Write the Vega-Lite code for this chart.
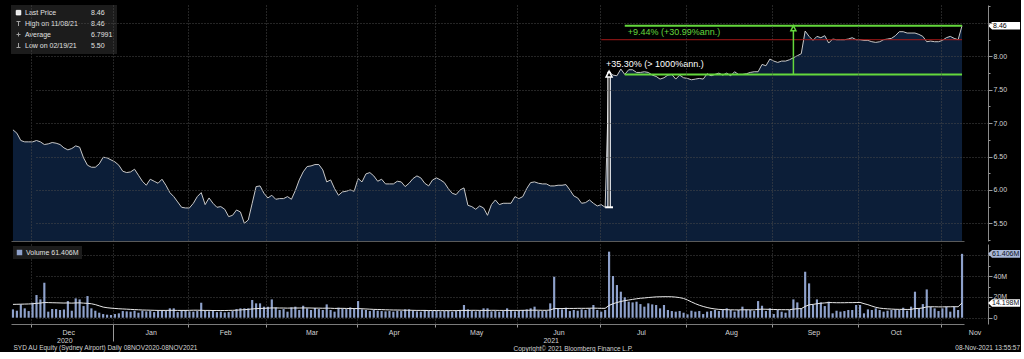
{
  "$schema": "https://vega.github.io/schema/vega-lite/v6.json",
  "background": "#000000",
  "padding": {"left": 10, "top": 5, "right": 0, "bottom": 0},
  "config": {
    "view": {"stroke": null},
    "font": "Liberation Sans",
    "axis": {"labelColor": "#d4d4d4", "labelFontSize": 7, "labelFont": "Liberation Sans", "gridColor": "#4a4a4a", "gridDash": [1, 2], "domainColor": "#7a7a7a", "tickColor": "#9a9a9a", "titleColor": "#d4d4d4", "titleFontWeight": "normal", "titleFontSize": 6.5, "titleFont": "Liberation Sans"},
    "legend": {"labelColor": "#e0e0e0", "labelFontSize": 7, "labelFont": "Liberation Sans", "fillColor": "#1c1c1c", "padding": 3},
    "title": {"color": "#d4d4d4", "fontSize": 6.5, "fontWeight": "normal", "font": "Liberation Sans"}
  },
  "datasets": {
    "px": [
      {"d":"2020-11-24","p":6.90,"v":8.0,"m":12.8},
      {"d":"2020-11-25","p":6.85,"v":6.7,"m":12.9},
      {"d":"2020-11-26","p":6.74,"v":12.8,"m":13.0},
      {"d":"2020-11-27","p":6.72,"v":9.0,"m":13.1},
      {"d":"2020-11-30","p":6.72,"v":6.4,"m":13.2},
      {"d":"2020-12-01","p":6.72,"v":14.4,"m":13.4},
      {"d":"2020-12-02","p":6.74,"v":21.8,"m":13.8},
      {"d":"2020-12-03","p":6.72,"v":17.6,"m":14.1},
      {"d":"2020-12-04","p":6.68,"v":33.7,"m":14.6},
      {"d":"2020-12-07","p":6.69,"v":5.8,"m":14.5},
      {"d":"2020-12-08","p":6.71,"v":8.3,"m":14.4},
      {"d":"2020-12-09","p":6.70,"v":8.3,"m":14.3},
      {"d":"2020-12-10","p":6.68,"v":7.4,"m":14.2},
      {"d":"2020-12-11","p":6.63,"v":8.0,"m":14.1},
      {"d":"2020-12-14","p":6.60,"v":16.0,"m":14.2},
      {"d":"2020-12-15","p":6.62,"v":6.7,"m":14.0},
      {"d":"2020-12-16","p":6.66,"v":18.6,"m":14.2},
      {"d":"2020-12-17","p":6.64,"v":17.6,"m":14.3},
      {"d":"2020-12-18","p":6.48,"v":11.2,"m":14.0},
      {"d":"2020-12-21","p":6.37,"v":20.8,"m":13.8},
      {"d":"2020-12-22","p":6.34,"v":9.0,"m":13.4},
      {"d":"2020-12-23","p":6.34,"v":6.7,"m":12.6},
      {"d":"2020-12-24","p":6.39,"v":4.8,"m":11.4},
      {"d":"2020-12-29","p":6.49,"v":3.5,"m":10.2},
      {"d":"2020-12-30","p":6.48,"v":2.9,"m":9.6},
      {"d":"2020-12-31","p":6.45,"v":2.6,"m":9.2},
      {"d":"2021-01-04","p":6.42,"v":3.5,"m":8.9},
      {"d":"2021-01-05","p":6.37,"v":4.2,"m":8.6},
      {"d":"2021-01-06","p":6.28,"v":6.4,"m":8.4},
      {"d":"2021-01-07","p":6.26,"v":6.1,"m":8.2},
      {"d":"2021-01-08","p":6.27,"v":5.8,"m":8.0},
      {"d":"2021-01-11","p":6.31,"v":6.7,"m":7.8},
      {"d":"2021-01-12","p":6.22,"v":4.8,"m":7.6},
      {"d":"2021-01-13","p":6.13,"v":6.7,"m":7.4},
      {"d":"2021-01-14","p":6.07,"v":6.1,"m":7.3},
      {"d":"2021-01-15","p":6.16,"v":6.4,"m":7.2},
      {"d":"2021-01-18","p":6.13,"v":5.4,"m":7.1},
      {"d":"2021-01-19","p":6.10,"v":6.4,"m":7.0},
      {"d":"2021-01-20","p":6.16,"v":6.7,"m":7.0},
      {"d":"2021-01-21","p":6.07,"v":6.4,"m":7.0},
      {"d":"2021-01-22","p":5.96,"v":9.0,"m":7.1},
      {"d":"2021-01-25","p":5.90,"v":9.0,"m":7.1},
      {"d":"2021-01-27","p":5.82,"v":5.4,"m":7.0},
      {"d":"2021-01-28","p":5.74,"v":7.4,"m":7.0},
      {"d":"2021-01-29","p":5.73,"v":7.4,"m":7.0},
      {"d":"2021-02-01","p":5.73,"v":6.1,"m":7.1},
      {"d":"2021-02-02","p":5.80,"v":5.8,"m":7.2},
      {"d":"2021-02-03","p":5.90,"v":6.4,"m":7.2},
      {"d":"2021-02-04","p":5.96,"v":14.4,"m":7.1},
      {"d":"2021-02-05","p":5.78,"v":6.7,"m":7.0},
      {"d":"2021-02-08","p":5.88,"v":6.1,"m":7.0},
      {"d":"2021-02-09","p":5.80,"v":6.4,"m":6.9},
      {"d":"2021-02-10","p":5.74,"v":5.4,"m":6.9},
      {"d":"2021-02-11","p":5.75,"v":5.8,"m":6.9},
      {"d":"2021-02-12","p":5.71,"v":5.1,"m":6.9},
      {"d":"2021-02-15","p":5.60,"v":5.4,"m":7.0},
      {"d":"2021-02-16","p":5.62,"v":6.4,"m":7.1},
      {"d":"2021-02-17","p":5.70,"v":8.3,"m":7.2},
      {"d":"2021-02-18","p":5.67,"v":9.0,"m":7.5},
      {"d":"2021-02-19","p":5.50,"v":9.0,"m":7.7},
      {"d":"2021-02-22","p":5.55,"v":9.0,"m":8.0},
      {"d":"2021-02-23","p":5.80,"v":17.0,"m":8.4},
      {"d":"2021-02-24","p":6.05,"v":13.8,"m":8.7},
      {"d":"2021-02-25","p":6.06,"v":13.8,"m":8.9},
      {"d":"2021-02-26","p":5.95,"v":10.6,"m":9.0},
      {"d":"2021-03-01","p":5.88,"v":10.6,"m":9.2},
      {"d":"2021-03-02","p":5.92,"v":17.6,"m":9.4},
      {"d":"2021-03-03","p":5.86,"v":9.9,"m":9.4},
      {"d":"2021-03-04","p":5.87,"v":7.4,"m":9.3},
      {"d":"2021-03-05","p":5.87,"v":8.3,"m":9.3},
      {"d":"2021-03-08","p":5.90,"v":5.8,"m":9.2},
      {"d":"2021-03-09","p":5.86,"v":9.9,"m":9.3},
      {"d":"2021-03-10","p":5.99,"v":10.6,"m":9.3},
      {"d":"2021-03-11","p":6.15,"v":7.4,"m":9.3},
      {"d":"2021-03-12","p":6.27,"v":11.5,"m":9.4},
      {"d":"2021-03-15","p":6.35,"v":9.0,"m":9.4},
      {"d":"2021-03-16","p":6.36,"v":7.4,"m":9.3},
      {"d":"2021-03-17","p":6.38,"v":9.3,"m":9.2},
      {"d":"2021-03-18","p":6.38,"v":8.3,"m":9.2},
      {"d":"2021-03-19","p":6.30,"v":7.4,"m":9.1},
      {"d":"2021-03-22","p":6.12,"v":12.8,"m":9.2},
      {"d":"2021-03-23","p":6.15,"v":7.4,"m":9.1},
      {"d":"2021-03-24","p":6.02,"v":5.8,"m":8.9},
      {"d":"2021-03-25","p":5.92,"v":9.6,"m":9.0},
      {"d":"2021-03-26","p":5.97,"v":9.0,"m":9.0},
      {"d":"2021-03-29","p":5.98,"v":8.3,"m":8.9},
      {"d":"2021-03-30","p":6.00,"v":9.9,"m":8.8},
      {"d":"2021-03-31","p":5.98,"v":9.0,"m":8.8},
      {"d":"2021-04-01","p":6.17,"v":16.0,"m":8.8},
      {"d":"2021-04-06","p":6.12,"v":8.0,"m":8.6},
      {"d":"2021-04-07","p":6.24,"v":7.4,"m":8.4},
      {"d":"2021-04-08","p":6.26,"v":6.4,"m":8.2},
      {"d":"2021-04-09","p":6.21,"v":7.4,"m":8.0},
      {"d":"2021-04-12","p":6.13,"v":6.7,"m":7.9},
      {"d":"2021-04-13","p":6.16,"v":6.4,"m":7.8},
      {"d":"2021-04-14","p":6.09,"v":6.1,"m":7.6},
      {"d":"2021-04-15","p":6.09,"v":6.4,"m":7.5},
      {"d":"2021-04-16","p":6.09,"v":5.8,"m":7.4},
      {"d":"2021-04-19","p":6.13,"v":6.7,"m":7.4},
      {"d":"2021-04-20","p":6.12,"v":6.4,"m":7.3},
      {"d":"2021-04-21","p":6.05,"v":8.0,"m":7.2},
      {"d":"2021-04-22","p":6.10,"v":8.0,"m":7.2},
      {"d":"2021-04-23","p":6.17,"v":6.7,"m":7.1},
      {"d":"2021-04-26","p":6.21,"v":6.1,"m":7.0},
      {"d":"2021-04-27","p":6.18,"v":5.8,"m":7.0},
      {"d":"2021-04-28","p":6.10,"v":7.4,"m":7.0},
      {"d":"2021-04-29","p":6.06,"v":6.7,"m":6.9},
      {"d":"2021-04-30","p":6.15,"v":6.4,"m":6.9},
      {"d":"2021-05-03","p":6.18,"v":6.7,"m":6.9},
      {"d":"2021-05-04","p":6.15,"v":6.1,"m":6.8},
      {"d":"2021-05-05","p":6.11,"v":6.4,"m":6.8},
      {"d":"2021-05-06","p":6.02,"v":6.7,"m":6.8},
      {"d":"2021-05-07","p":5.95,"v":5.8,"m":6.8},
      {"d":"2021-05-10","p":5.93,"v":6.4,"m":6.8},
      {"d":"2021-05-11","p":6.00,"v":6.7,"m":7.0},
      {"d":"2021-05-12","p":6.03,"v":12.2,"m":7.0},
      {"d":"2021-05-13","p":5.77,"v":8.0,"m":7.0},
      {"d":"2021-05-14","p":5.75,"v":6.7,"m":7.1},
      {"d":"2021-05-17","p":5.71,"v":6.1,"m":7.1},
      {"d":"2021-05-18","p":5.76,"v":6.7,"m":7.0},
      {"d":"2021-05-19","p":5.73,"v":9.0,"m":7.0},
      {"d":"2021-05-20","p":5.62,"v":9.0,"m":7.0},
      {"d":"2021-05-21","p":5.78,"v":6.1,"m":7.1},
      {"d":"2021-05-24","p":5.85,"v":6.4,"m":7.1},
      {"d":"2021-05-25","p":5.78,"v":5.8,"m":7.0},
      {"d":"2021-05-26","p":5.80,"v":6.4,"m":7.0},
      {"d":"2021-05-27","p":5.80,"v":9.0,"m":7.0},
      {"d":"2021-05-28","p":5.80,"v":7.4,"m":7.0},
      {"d":"2021-05-31","p":5.90,"v":6.1,"m":7.0},
      {"d":"2021-06-01","p":5.87,"v":6.7,"m":7.0},
      {"d":"2021-06-02","p":5.90,"v":7.4,"m":7.1},
      {"d":"2021-06-03","p":6.02,"v":8.0,"m":7.1},
      {"d":"2021-06-04","p":6.11,"v":9.0,"m":7.2},
      {"d":"2021-06-07","p":6.12,"v":10.6,"m":7.2},
      {"d":"2021-06-08","p":6.10,"v":6.7,"m":7.2},
      {"d":"2021-06-09","p":6.09,"v":6.4,"m":7.1},
      {"d":"2021-06-10","p":6.09,"v":6.7,"m":7.1},
      {"d":"2021-06-11","p":6.06,"v":13.8,"m":7.4},
      {"d":"2021-06-15","p":6.06,"v":39.4,"m":8.8},
      {"d":"2021-06-16","p":6.07,"v":9.0,"m":8.8},
      {"d":"2021-06-17","p":6.07,"v":8.0,"m":8.8},
      {"d":"2021-06-18","p":6.08,"v":9.6,"m":8.9},
      {"d":"2021-06-21","p":6.00,"v":6.4,"m":8.9},
      {"d":"2021-06-22","p":5.91,"v":7.4,"m":8.9},
      {"d":"2021-06-23","p":5.88,"v":6.7,"m":9.0},
      {"d":"2021-06-24","p":5.80,"v":8.0,"m":9.0},
      {"d":"2021-06-25","p":5.81,"v":7.4,"m":9.0},
      {"d":"2021-06-28","p":5.85,"v":9.0,"m":9.1},
      {"d":"2021-06-29","p":5.80,"v":12.2,"m":9.2},
      {"d":"2021-06-30","p":5.76,"v":7.4,"m":9.1},
      {"d":"2021-07-01","p":5.78,"v":5.8,"m":9.0},
      {"d":"2021-07-02","p":5.74,"v":7.4,"m":9.0},
      {"d":"2021-07-05","p":7.77,"v":63.5,"m":11.8},
      {"d":"2021-07-06","p":7.72,"v":40.1,"m":13.4},
      {"d":"2021-07-07","p":7.71,"v":31.4,"m":14.6},
      {"d":"2021-07-08","p":7.81,"v":25.0,"m":15.6},
      {"d":"2021-07-09","p":7.73,"v":19.6,"m":16.4},
      {"d":"2021-07-12","p":7.80,"v":15.4,"m":17.0},
      {"d":"2021-07-13","p":7.80,"v":14.7,"m":17.6},
      {"d":"2021-07-14","p":7.76,"v":15.4,"m":18.2},
      {"d":"2021-07-15","p":7.76,"v":13.1,"m":18.7},
      {"d":"2021-07-16","p":7.77,"v":10.6,"m":19.0},
      {"d":"2021-07-19","p":7.76,"v":13.8,"m":19.4},
      {"d":"2021-07-20","p":7.72,"v":12.8,"m":19.7},
      {"d":"2021-07-21","p":7.70,"v":12.2,"m":20.0},
      {"d":"2021-07-22","p":7.66,"v":9.0,"m":20.1},
      {"d":"2021-07-23","p":7.68,"v":12.2,"m":20.2},
      {"d":"2021-07-26","p":7.72,"v":7.4,"m":20.2},
      {"d":"2021-07-27","p":7.73,"v":6.4,"m":20.1},
      {"d":"2021-07-28","p":7.66,"v":5.8,"m":19.8},
      {"d":"2021-07-29","p":7.72,"v":6.4,"m":19.3},
      {"d":"2021-07-30","p":7.68,"v":4.8,"m":18.5},
      {"d":"2021-08-02","p":7.67,"v":3.2,"m":17.0},
      {"d":"2021-08-03","p":7.65,"v":6.7,"m":15.2},
      {"d":"2021-08-04","p":7.66,"v":5.8,"m":13.5},
      {"d":"2021-08-05","p":7.67,"v":6.4,"m":12.0},
      {"d":"2021-08-06","p":7.66,"v":3.5,"m":10.8},
      {"d":"2021-08-09","p":7.74,"v":5.8,"m":9.8},
      {"d":"2021-08-10","p":7.71,"v":6.4,"m":9.0},
      {"d":"2021-08-11","p":7.73,"v":7.4,"m":8.4},
      {"d":"2021-08-12","p":7.75,"v":6.4,"m":8.0},
      {"d":"2021-08-13","p":7.72,"v":8.0,"m":7.8},
      {"d":"2021-08-16","p":7.75,"v":9.0,"m":7.7},
      {"d":"2021-08-17","p":7.71,"v":7.4,"m":7.6},
      {"d":"2021-08-18","p":7.77,"v":5.8,"m":7.5},
      {"d":"2021-08-19","p":7.73,"v":7.4,"m":7.5},
      {"d":"2021-08-20","p":7.73,"v":10.6,"m":7.6},
      {"d":"2021-08-23","p":7.74,"v":8.0,"m":7.6},
      {"d":"2021-08-24","p":7.76,"v":7.4,"m":7.6},
      {"d":"2021-08-25","p":7.77,"v":6.4,"m":7.5},
      {"d":"2021-08-26","p":7.77,"v":16.0,"m":8.0},
      {"d":"2021-08-27","p":7.88,"v":11.5,"m":8.2},
      {"d":"2021-08-30","p":7.86,"v":6.4,"m":8.1},
      {"d":"2021-08-31","p":7.96,"v":9.0,"m":8.0},
      {"d":"2021-09-01","p":7.93,"v":3.5,"m":7.9},
      {"d":"2021-09-02","p":7.91,"v":7.4,"m":7.8},
      {"d":"2021-09-03","p":7.93,"v":5.8,"m":7.7},
      {"d":"2021-09-06","p":7.93,"v":4.8,"m":7.7},
      {"d":"2021-09-07","p":7.95,"v":7.4,"m":7.7},
      {"d":"2021-09-08","p":7.98,"v":17.6,"m":8.2},
      {"d":"2021-09-09","p":8.01,"v":14.7,"m":8.6},
      {"d":"2021-09-10","p":8.04,"v":9.0,"m":8.7},
      {"d":"2021-09-13","p":8.38,"v":44.2,"m":10.8},
      {"d":"2021-09-14","p":8.30,"v":33.0,"m":12.4},
      {"d":"2021-09-15","p":8.24,"v":12.2,"m":12.8},
      {"d":"2021-09-16","p":8.30,"v":17.6,"m":13.4},
      {"d":"2021-09-17","p":8.28,"v":14.7,"m":13.9},
      {"d":"2021-09-20","p":8.31,"v":11.2,"m":14.2},
      {"d":"2021-09-21","p":8.20,"v":15.4,"m":14.6},
      {"d":"2021-09-22","p":8.26,"v":4.2,"m":14.5},
      {"d":"2021-09-23","p":8.25,"v":6.7,"m":14.4},
      {"d":"2021-09-24","p":8.25,"v":5.8,"m":14.4},
      {"d":"2021-09-27","p":8.25,"v":6.4,"m":14.4},
      {"d":"2021-09-28","p":8.26,"v":7.4,"m":14.5},
      {"d":"2021-09-29","p":8.28,"v":7.4,"m":14.5},
      {"d":"2021-09-30","p":8.25,"v":12.2,"m":14.6},
      {"d":"2021-10-01","p":8.25,"v":12.2,"m":14.7},
      {"d":"2021-10-04","p":8.24,"v":4.2,"m":13.5},
      {"d":"2021-10-05","p":8.24,"v":8.0,"m":12.5},
      {"d":"2021-10-06","p":8.22,"v":7.4,"m":11.2},
      {"d":"2021-10-07","p":8.21,"v":9.0,"m":10.0},
      {"d":"2021-10-08","p":8.22,"v":7.4,"m":9.2},
      {"d":"2021-10-11","p":8.25,"v":5.8,"m":8.8},
      {"d":"2021-10-12","p":8.26,"v":6.7,"m":8.5},
      {"d":"2021-10-13","p":8.27,"v":7.4,"m":8.3},
      {"d":"2021-10-14","p":8.31,"v":8.0,"m":8.1},
      {"d":"2021-10-15","p":8.37,"v":7.4,"m":8.0},
      {"d":"2021-10-18","p":8.37,"v":9.6,"m":8.0},
      {"d":"2021-10-19","p":8.35,"v":6.7,"m":7.9},
      {"d":"2021-10-20","p":8.35,"v":10.6,"m":8.0},
      {"d":"2021-10-21","p":8.35,"v":25.0,"m":8.8},
      {"d":"2021-10-22","p":8.33,"v":9.0,"m":8.9},
      {"d":"2021-10-25","p":8.30,"v":13.1,"m":9.4},
      {"d":"2021-10-26","p":8.22,"v":27.2,"m":10.4},
      {"d":"2021-10-27","p":8.23,"v":10.6,"m":10.5},
      {"d":"2021-10-28","p":8.22,"v":9.0,"m":10.5},
      {"d":"2021-10-29","p":8.22,"v":6.4,"m":10.4},
      {"d":"2021-11-01","p":8.24,"v":9.0,"m":10.4},
      {"d":"2021-11-02","p":8.28,"v":10.6,"m":10.5},
      {"d":"2021-11-03","p":8.30,"v":5.8,"m":10.5},
      {"d":"2021-11-04","p":8.27,"v":10.6,"m":10.6},
      {"d":"2021-11-05","p":8.25,"v":7.4,"m":10.5},
      {"d":"2021-11-08","p":8.46,"v":61.406,"m":14.198}
    ]
  },
  "spacing": 3,
  "resolve": {"scale": {"color": "independent", "shape": "independent", "x": "independent", "y": "independent"}, "legend": {"color": "independent", "shape": "independent"}},
  "vconcat": [
    {
      "width": 977,
      "height": 236,
      "encoding": {
        "x": {"field": "d", "type": "ordinal",
          "scale": {"type": "band", "range": [0, 953], "paddingInner": 0.45, "paddingOuter": 0.225},
          "axis": {"values": ["2020-12-01","2021-01-04","2021-02-01","2021-03-01","2021-04-01","2021-05-03","2021-06-01","2021-07-01","2021-08-02","2021-09-01","2021-10-01","2021-11-01"],
            "bandPosition": 0, "labels": false, "ticks": false, "domain": true, "domainColor": "#5a5a5a", "grid": true, "title": null, "zindex": 1}},
        "y": {"field": "p", "type": "quantitative",
          "scale": {"domain": [5.235, 8.77], "nice": false, "zero": false},
          "axis": {"orient": "right", "title": null, "zindex": 1,
            "values": [5.25, 5.5, 5.75, 6, 6.25, 6.5, 6.75, 7, 7.25, 7.5, 7.75, 8, 8.25, 8.5, 8.75],
            "labelExpr": "(abs(datum.value*2-round(datum.value*2))<0.01 && datum.value<8.4) ? format(datum.value,'.2f') : ''",
            "gridOpacity": {"condition": {"test": "abs(datum.value*2-round(datum.value*2))<0.01", "value": 1}, "value": 0},
            "tickSize": {"condition": {"test": "abs(datum.value*2-round(datum.value*2))<0.01", "value": 4}, "value": 2},
            "labelPadding": 1, "domainColor": "#8a8a8a"}}
      },
      "layer": [
        {
          "data": {"values": [
            {"k": "Last Price", "d": "2021-11-08", "p": 8.46},
            {"k": "High on 11/08/21", "d": "2021-11-08", "p": 8.46},
            {"k": "Average", "d": "2021-11-08", "p": 6.7991},
            {"k": "Low on 02/19/21", "d": "2021-11-08", "p": 5.50},
            {"k": "8.46", "d": "2021-11-08", "p": 8.46},
            {"k": "8.46 ", "d": "2021-11-08", "p": 8.46},
            {"k": "6.7991", "d": "2021-11-08", "p": 6.7991},
            {"k": "5.50", "d": "2021-11-08", "p": 5.50}
          ]},
          "mark": {"type": "point", "opacity": 0, "filled": false},
          "encoding": {
            "color": {"field": "k", "type": "nominal",
              "scale": {"domain": ["Last Price", "High on 11/08/21", "Average", "Low on 02/19/21", "8.46", "8.46 ", "6.7991", "5.50"],
                        "range": ["#ffffff", "#a0a0a0", "#a0a0a0", "#a0a0a0", "#000000", "#000000", "#000000", "#000000"]},
              "legend": {"orient": "top-left", "offset": 0, "title": null, "columns": 2, "gridAlign": "each", "symbolOpacity": 1, "symbolSize": 25, "symbolStrokeWidth": 1, "rowPadding": 2, "columnPadding": 3, "padding": 4, "labelOffset": 3, "labelLimit": 200}},
            "shape": {"field": "k", "type": "nominal",
              "scale": {"domain": ["Last Price", "High on 11/08/21", "Average", "Low on 02/19/21", "8.46", "8.46 ", "6.7991", "5.50"],
                        "range": ["M-0.9,-0.9L0.9,-0.9L0.9,0.9L-0.9,0.9ZM-0.9,-0.5L0.9,-0.5M-0.9,-0.1L0.9,-0.1M-0.9,0.3L0.9,0.3M-0.9,0.7L0.9,0.7", "M-0.8,-0.8L0.8,-0.8M0,-0.8L0,1", "M-0.8,0L0.8,0M0,-0.8L0,0.8", "M-0.8,0.8L0.8,0.8M0,0.8L0,-1", "M0,0L0,0", "M0,0L0,0", "M0,0L0,0", "M0,0L0,0"]},
              "legend": {"orient": "top-left", "offset": 0, "title": null, "columns": 2, "gridAlign": "each", "symbolOpacity": 1, "symbolSize": 25, "symbolStrokeWidth": 1, "rowPadding": 2, "columnPadding": 3, "padding": 4, "labelOffset": 3, "labelLimit": 200}}
          }
        },
        {"data": {"name": "px"}, "mark": {"type": "area", "color": "#0c1e38", "clip": true}},
        {"data": {"name": "px"}, "mark": {"type": "line", "color": "#c8c8c8", "strokeWidth": 1}},
        {
          "data": {"values": [{"d": "2021-07-01", "d2": "2021-11-08", "p": 8.25}]},
          "mark": {"type": "rule", "color": "#a41818", "strokeWidth": 1},
          "encoding": {"x2": {"field": "d2"}}
        },
        {
          "data": {"values": [{"d": "2021-07-09", "d2": "2021-11-08", "p": 7.73}, {"d": "2021-07-09", "d2": "2021-11-08", "p": 8.46}]},
          "mark": {"type": "rule", "color": "#64d83c", "strokeWidth": 2},
          "encoding": {"x2": {"field": "d2"}}
        },
        {
          "data": {"values": [{"d": "2021-09-08", "p": 7.73, "p2": 8.46}]},
          "mark": {"type": "rule", "color": "#64d83c", "strokeWidth": 1.5},
          "encoding": {"y2": {"field": "p2"}}
        },
        {
          "data": {"values": [{"d": "2021-09-08", "p": 8.46}]},
          "mark": {"type": "point", "shape": "M0,0L-0.5,1L0.5,1Z", "size": 100, "filled": true, "fill": "#000000", "stroke": "#64d83c", "strokeWidth": 1.5, "opacity": 1}
        },
        {
          "data": {"values": [{"d": "2021-07-09", "p": 8.46, "t": "+9.44% (+30.99%ann.)"}]},
          "mark": {"type": "text", "color": "#64d83c", "align": "left", "baseline": "top", "dx": 3, "dy": 2, "fontSize": 9},
          "encoding": {"text": {"field": "t"}}
        },
        {
          "data": {"values": [{"d": "2021-07-05", "p": 5.74, "p2": 7.77}]},
          "mark": {"type": "rule", "color": "#ffffff", "strokeWidth": 3.5},
          "encoding": {"y2": {"field": "p2"}}
        },
        {
          "data": {"values": [{"d": "2021-07-05", "p": 5.74, "p2": 7.77}]},
          "mark": {"type": "rule", "color": "#000000", "strokeWidth": 1.2},
          "encoding": {"y2": {"field": "p2"}}
        },
        {
          "data": {"values": [{"d": "2021-07-02", "d2": "2021-07-06", "p": 5.74}]},
          "mark": {"type": "rule", "color": "#ffffff", "strokeWidth": 2},
          "encoding": {"x2": {"field": "d2"}}
        },
        {
          "data": {"values": [{"d": "2021-07-05", "p": 7.78}]},
          "mark": {"type": "point", "shape": "M0,0L-0.5,1L0.5,1Z", "size": 144, "filled": true, "fill": "#000000", "stroke": "#ffffff", "strokeWidth": 1.5, "opacity": 1}
        },
        {
          "data": {"values": [{"d": "2021-07-05", "p": 7.77, "t": "+35.30% (> 1000%ann.)"}]},
          "mark": {"type": "text", "color": "#ffffff", "align": "left", "baseline": "bottom", "dx": -3, "dy": -3, "fontSize": 9},
          "encoding": {"text": {"field": "t"}}
        },
        {
          "data": {"values": [{"d": "2021-11-08", "p": 8.46}]},
          "mark": {"type": "point", "shape": "M2.6,0L3.0,-0.38L5.8,-0.38L5.8,0.38L3.0,0.38Z", "size": 400, "filled": true, "fill": "#ffffff", "strokeWidth": 0, "opacity": 1}
        },
        {
          "data": {"values": [{"d": "2021-11-08", "p": 8.46, "t": "8.46"}]},
          "mark": {"type": "text", "color": "#000000", "align": "left", "baseline": "middle", "dx": 31, "fontSize": 7},
          "encoding": {"text": {"field": "t"}}
        }
      ]
    },
    {
      "width": 977,
      "height": 80,
      "title": {"text": "08-Nov-2021 13:55:57", "orient": "bottom", "anchor": "end", "frame": "bounds", "offset": -7, "fontSize": 6.5},
      "encoding": {
        "x": {"field": "d", "type": "ordinal",
          "scale": {"type": "band", "range": [0, 953], "paddingInner": 0.45, "paddingOuter": 0.225},
          "axis": {
            "values": ["2020-12-01","2021-01-04","2021-02-01","2021-03-01","2021-04-01","2021-05-03","2021-06-01","2021-07-01","2021-08-02","2021-09-01","2021-10-01","2021-11-01",
                       "2020-12-14","2020-12-15","2021-01-18","2021-02-15","2021-03-17","2021-04-19","2021-05-18","2021-06-15","2021-06-17","2021-07-16","2021-08-18","2021-09-16","2021-10-15","2021-11-08"],
            "bandPosition": 0,
            "grid": true,
            "gridOpacity": {"condition": {"test": "toNumber(substring(datum.value,8,10)) < 8", "value": 1}, "value": 0},
            "ticks": true,
            "tickOpacity": {"condition": {"test": "toNumber(substring(datum.value,8,10)) < 8", "value": 1}, "value": 0},
            "tickSize": {"condition": {"test": "datum.value == '2021-01-04'", "value": 17}, "value": 3},
            "labelExpr": "datum.value == '2020-12-14' ? ['', '2020'] : datum.value == '2021-06-15' ? ['', '2021'] : toNumber(substring(datum.value,8,10)) < 8 ? '' : utcFormat(toDate(datum.value), '%b')",
            "labelOffset": {"condition": {"test": "datum.value == '2021-11-08'", "value": 13}, "value": -3},
            "labelAngle": 0, "labelOverlap": false, "labelPadding": 1, "labelLineHeight": 8,
            "domain": true, "domainColor": "#7a7a7a",
            "title": "SYD AU Equity (Sydney Airport)  Daily 08NOV2020-08NOV2021",
            "titleAnchor": "start", "titleAlign": "left", "titleX": 2, "titleY": 25, "titleBaseline": "alphabetic"
          }},
        "y": {"field": "v", "type": "quantitative",
          "scale": {"domain": [-6.06, 70.87], "nice": false},
          "axis": {"orient": "right",
            "values": [0, 10, 20, 30, 40, 50, 60],
            "labelExpr": "datum.value == 0 ? '0' : (datum.value == 20 || datum.value == 40) ? datum.value + 'M' : ''",
            "gridOpacity": {"condition": {"test": "datum.value % 20 == 0", "value": 1}, "value": 0},
            "tickSize": {"condition": {"test": "datum.value % 20 == 0", "value": 4}, "value": 2},
            "labelPadding": 1, "domainColor": "#8a8a8a",
            "title": "Copyright\u00a9 2021 Bloomberg Finance L.P.",
            "titleAngle": 0, "titleX": -475, "titleY": 106, "titleAlign": "left", "titleBaseline": "alphabetic"}}
      },
      "layer": [
        {
          "data": {"name": "px"},
          "mark": {"type": "bar", "color": "#8ea1cb"},
          "encoding": {
            "color": {"datum": "Volume 61.406M", "type": "nominal", "scale": {"range": ["#8ea1cb"]},
              "legend": {"orient": "top-left", "offset": 2, "title": null, "symbolType": "square", "symbolSize": 30, "padding": 3, "labelOffset": 3}}
          }
        },
        {
          "data": {"name": "px"},
          "mark": {"type": "line", "color": "#e8e8e8", "strokeWidth": 1},
          "encoding": {"y": {"field": "m", "type": "quantitative"}}
        },
        {
          "data": {"values": [{"d": "2021-11-08", "v": 61.406}]},
          "mark": {"type": "point", "shape": "M2.6,0L3.0,-0.38L5.8,-0.38L5.8,0.38L3.0,0.38Z", "size": 400, "filled": true, "fill": "#a9b8d8", "strokeWidth": 0, "opacity": 1}
        },
        {
          "data": {"values": [{"d": "2021-11-08", "v": 14.198}]},
          "mark": {"type": "point", "shape": "M2.6,0L3.0,-0.38L5.8,-0.38L5.8,0.38L3.0,0.38Z", "size": 400, "filled": true, "fill": "#ffffff", "strokeWidth": 0, "opacity": 1}
        },
        {
          "data": {"values": [{"d": "2021-11-08", "v": 61.406, "t": "61.406M"}, {"d": "2021-11-08", "v": 14.198, "t": "14.198M"}]},
          "mark": {"type": "text", "color": "#0a1020", "align": "left", "baseline": "middle", "dx": 30, "fontSize": 7},
          "encoding": {"text": {"field": "t"}}
        }
      ]
    }
  ]
}
